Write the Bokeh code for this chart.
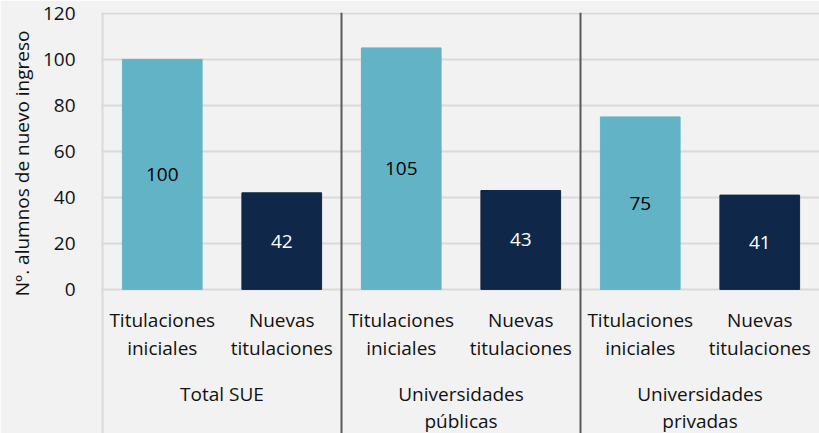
from bokeh.plotting import figure
from bokeh.models import Range1d, FixedTicker, ColumnDataSource, Title
from bokeh.core.properties import value
from bokeh.embed import file_html
from bokeh.resources import INLINE

# ---- data ----
groups = ["Total SUE", "Universidades\npúblicas", "Universidades\nprivadas"]
subcats = ["Titulaciones\niniciales", "Nuevas\ntitulaciones"]
values_ini = [100, 105, 75]
values_new = [42, 43, 41]
y_ticks = [0, 20, 40, 60, 80, 100, 120]
y_title = "Nº. alumnos de nuevo ingreso"

LIGHT = "#63B3C7"
DARK = "#0F2849"
BG = "#F2F2F2"
FONT = "Open Sans"
PX_PER_UNIT = 2.3
W, H = 819, 433
LEFT, TOP = 102, 12

# build positions from categories
xs, tops, colors, txtcol = [], [], [], []
for gi, g in enumerate(groups):
    for si, v in enumerate([values_ini[gi], values_new[gi]]):
        xs.append(gi * 2 + si + 0.5)
        tops.append(v)
        colors.append(LIGHT if si == 0 else DARK)
        txtcol.append("black" if si == 0 else "white")

src = ColumnDataSource(dict(x=xs, top=tops, color=colors, tc=txtcol,
                            mid=[t / 2 for t in tops],
                            lab=[str(t) for t in tops]))

y_top = 120.4
y_bottom = y_top - (H - TOP) / PX_PER_UNIT
p = figure(width=W, height=H, output_backend="svg", toolbar_location=None,
           x_range=Range1d(0, 2 * len(groups)), y_range=Range1d(y_bottom, y_top),
           x_axis_location=None, background_fill_color=BG,
           border_fill_color=BG, outline_line_color=None,
           min_border_left=LEFT, min_border_right=0, min_border_top=TOP,
           min_border_bottom=0)

p.vbar(x="x", top="top", bottom=0, width=0.667, color="color", source=src)
p.text(x="x", y="mid", text="lab", text_color="tc", source=src,
       text_align="center", text_baseline="middle",
       text_font=value(FONT), text_font_size="19px")

# separators between groups
sep_x = [2 * i for i in range(1, len(groups))]
p.segment(x0=sep_x, y0=[y_top] * len(sep_x), x1=sep_x, y1=[y_bottom] * len(sep_x),
          line_color="#595959", line_width=2)

# sub-category and group labels
for gi in range(len(groups)):
    for si, sc in enumerate(subcats):
        for li, line in enumerate(sc.split("\n")):
            p.text(x=[gi * 2 + si + 0.5], y=[0], text=[line],
                   y_offset=31 + li * 28, text_align="center",
                   text_baseline="middle", text_font=value(FONT),
                   text_font_size="19px", text_color="#111111")
    for li, line in enumerate(groups[gi].split("\n")):
        p.text(x=[gi * 2 + 1], y=[0], text=[line],
               y_offset=105 + li * 27, text_align="center",
               text_baseline="middle", text_font=value(FONT),
               text_font_size="19px", text_color="#111111")

# axes / grid
p.yaxis.ticker = FixedTicker(ticks=y_ticks)
p.yaxis.axis_line_color = "#D9D9D9"
p.yaxis.axis_line_width = 2
p.yaxis.major_tick_line_color = None
p.yaxis.minor_tick_line_color = None
p.yaxis.major_label_standoff = 21
p.yaxis.major_label_text_font = FONT
p.yaxis.major_label_text_font_size = "19px"
p.yaxis.major_label_text_color = "#111111"
p.ygrid.ticker = FixedTicker(ticks=y_ticks)
p.ygrid.grid_line_color = "#D9D9D9"
p.ygrid.grid_line_width = 2
p.xgrid.grid_line_color = None

# y-axis title as a left-side title, anchored near the top
p.add_layout(Title(text=y_title, align="right", offset=18,
                   text_font=FONT, text_font_size="19px",
                   text_font_style="normal", text_color="#111111",
                   standoff=9), "left")

html = file_html(p, INLINE)
html = html.replace("<body>", '<body style="background:%s">' % BG, 1)
open("out.html", "w").write(html)
